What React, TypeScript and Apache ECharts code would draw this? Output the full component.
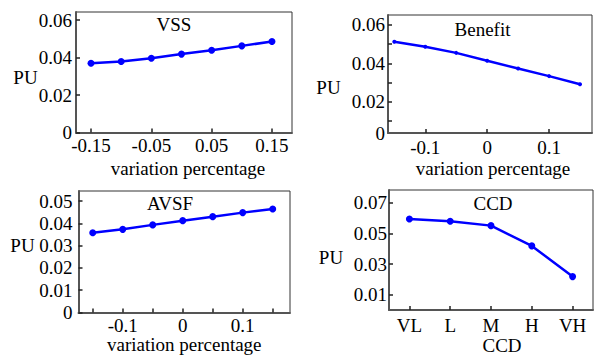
import React, { useEffect, useRef } from 'react';
import * as echarts from 'echarts';

// ---- data ----
const variation = [-0.15, -0.1, -0.05, 0, 0.05, 0.1, 0.15];
const vssPU = [0.037, 0.0379, 0.0397, 0.0419, 0.044, 0.0463, 0.0486];
const benefitPU = [0.0513, 0.0487, 0.0455, 0.0414, 0.0374, 0.0334, 0.0292];
const avsfPU = [0.0358, 0.0373, 0.0393, 0.0412, 0.043, 0.0448, 0.0464];
const ccdLevels = ['VL', 'L', 'M', 'H', 'VH'];
const ccdPU = [0.0593, 0.0578, 0.055, 0.0418, 0.0218];

// ---- tick values ----
const vssXTicks = [-0.15, -0.05, 0.05, 0.15];
const vssYTicks = [0, 0.02, 0.04, 0.06];
const benefitXTicks = [-0.1, 0, 0.1];
const benefitYMin = 0.0038;
const benefitYLabels = [benefitYMin, 0.02, 0.04, 0.06];
const benefitYTicks = [0.01, 0.02, 0.03, 0.04, 0.05, 0.06];
const avsfXLabels = [-0.1, 0, 0.1];
const avsfXTicks = [-0.15, -0.1, -0.05, 0, 0.05, 0.1, 0.15];
const avsfYTicks = [0, 0.01, 0.02, 0.03, 0.04, 0.05];
const ccdYTicks = [0.01, 0.03, 0.05, 0.07];

const FONT = "'Liberation Serif', 'Times New Roman', serif";
const FS = 19;
const BLUE = '#0000ff';

const fmt = (v: number) => (Math.abs(v) < 0.005 ? '0' : String(+v.toFixed(3)));

const labelStyle = (margin: number, values?: number[]) => ({
  fontFamily: FONT,
  fontSize: FS,
  color: '#000',
  margin,
  formatter: fmt,
  ...(values ? { customValues: values } : {}),
});

const lineAxis = { show: true, onZero: false, lineStyle: { color: '#555', width: 2 } };
const tickIn = (values?: number[]) => ({
  show: true,
  inside: true,
  length: 4,
  lineStyle: { color: '#222', width: 1.5 },
  ...(values ? { customValues: values } : {}),
});

const nameStyle = (padLeft = 0) => ({
  fontFamily: FONT,
  fontSize: FS,
  color: '#000',
  padding: [0, 0, 0, padLeft],
});

const gridBase = { show: true, borderColor: '#333', borderWidth: 1, containLabel: false };

export default function App() {
  const ref = useRef<HTMLDivElement>(null);
  useEffect(() => {
    if (!ref.current) return;
    const chart = echarts.init(ref.current, undefined, { renderer: 'svg' });
    const pts = (xs: number[], ys: number[]) => xs.map((x, i) => [x, ys[i]]);
    const lineSeries = (xi: number, data: any[], size: number) => ({
      type: 'line',
      xAxisIndex: xi,
      yAxisIndex: xi,
      data,
      symbol: 'circle',
      symbolSize: size,
      itemStyle: { color: BLUE },
      lineStyle: { color: BLUE, width: 2.5 },
    });
    const txt = (x: number, y: number, text: string) => ({
      type: 'text',
      x,
      y,
      style: {
        text,
        fontFamily: FONT,
        fontSize: FS,
        fill: '#000',
        align: 'center',
        verticalAlign: 'middle',
      },
    });
    chart.setOption({
      animation: false,
      backgroundColor: '#fff',
      textStyle: { fontFamily: FONT, fontSize: FS, color: '#000' },
      grid: [
        { ...gridBase, left: 76, top: 12, width: 216, height: 120.5 },
        { ...gridBase, left: 388, top: 15, width: 204, height: 118 },
        { ...gridBase, left: 78.5, top: 191, width: 211.5, height: 121.5 },
        { ...gridBase, left: 389, top: 190, width: 204, height: 123 },
      ],
      xAxis: [
        {
          type: 'value', gridIndex: 0, min: -0.1749, max: 0.1832,
          axisLine: lineAxis, axisTick: tickIn(vssXTicks), axisLabel: labelStyle(3, vssXTicks),
          splitLine: { show: false },
          name: 'variation percentage', nameLocation: 'middle', nameGap: 26, nameTextStyle: nameStyle(8),
        },
        {
          type: 'value', gridIndex: 1, min: -0.1602, max: 0.1694,
          axisLine: lineAxis, axisTick: tickIn(benefitXTicks), axisLabel: labelStyle(5, benefitXTicks),
          splitLine: { show: false },
          name: 'variation percentage', nameLocation: 'middle', nameGap: 26, nameTextStyle: nameStyle(6),
        },
        {
          type: 'value', gridIndex: 2, min: -0.1737, max: 0.1788,
          axisLine: lineAxis, axisTick: tickIn(avsfXTicks), axisLabel: labelStyle(3, avsfXLabels),
          splitLine: { show: false },
          name: 'variation percentage', nameLocation: 'middle', nameGap: 15, nameTextStyle: nameStyle(0),
        },
        {
          type: 'category', gridIndex: 3, data: ccdLevels, boundaryGap: true,
          axisLine: lineAxis,
          axisTick: { show: true, inside: true, length: 4, alignWithLabel: true, lineStyle: { color: '#222', width: 1.5 } },
          axisLabel: { fontFamily: FONT, fontSize: FS, color: '#000', margin: 6 },
          splitLine: { show: false },
          name: 'CCD', nameLocation: 'middle', nameGap: 25, nameTextStyle: nameStyle(22),
        },
      ],
      yAxis: [
        {
          type: 'value', gridIndex: 0, min: 0, max: 0.0644,
          axisLine: lineAxis, axisTick: tickIn(vssYTicks), axisLabel: labelStyle(4, vssYTicks),
          splitLine: { show: false },
        },
        {
          type: 'value', gridIndex: 1, min: benefitYMin, max: 0.0652,
          axisLine: lineAxis, axisTick: tickIn(benefitYTicks), axisLabel: labelStyle(3, benefitYLabels),
          splitLine: { show: false },
        },
        {
          type: 'value', gridIndex: 2, min: 0, max: 0.0545,
          axisLine: lineAxis, axisTick: tickIn(avsfYTicks), axisLabel: labelStyle(6, avsfYTicks),
          splitLine: { show: false },
        },
        {
          type: 'value', gridIndex: 3, min: 0, max: 0.0782,
          axisLine: lineAxis, axisTick: tickIn(ccdYTicks), axisLabel: labelStyle(2, ccdYTicks),
          splitLine: { show: false },
        },
      ],
      series: [
        lineSeries(0, pts(variation, vssPU), 7),
        lineSeries(1, pts(variation, benefitPU), 4),
        lineSeries(2, pts(variation, avsfPU), 7),
        lineSeries(3, ccdPU, 7),
      ],
      graphic: [
        txt(174, 24.5, 'VSS'),
        txt(482.5, 29.5, 'Benefit'),
        txt(170, 203, 'AVSF'),
        txt(493, 203, 'CCD'),
        txt(25.5, 77.5, 'PU'),
        txt(328.5, 87.5, 'PU'),
        txt(22.5, 245, 'PU'),
        txt(331, 257, 'PU'),
      ],
    });
    return () => chart.dispose();
  }, []);
  return (
    <div
      ref={ref}
      style={{ position: 'fixed', left: 0, top: 0, width: 597, height: 356, background: '#fff' }}
    />
  );
}
